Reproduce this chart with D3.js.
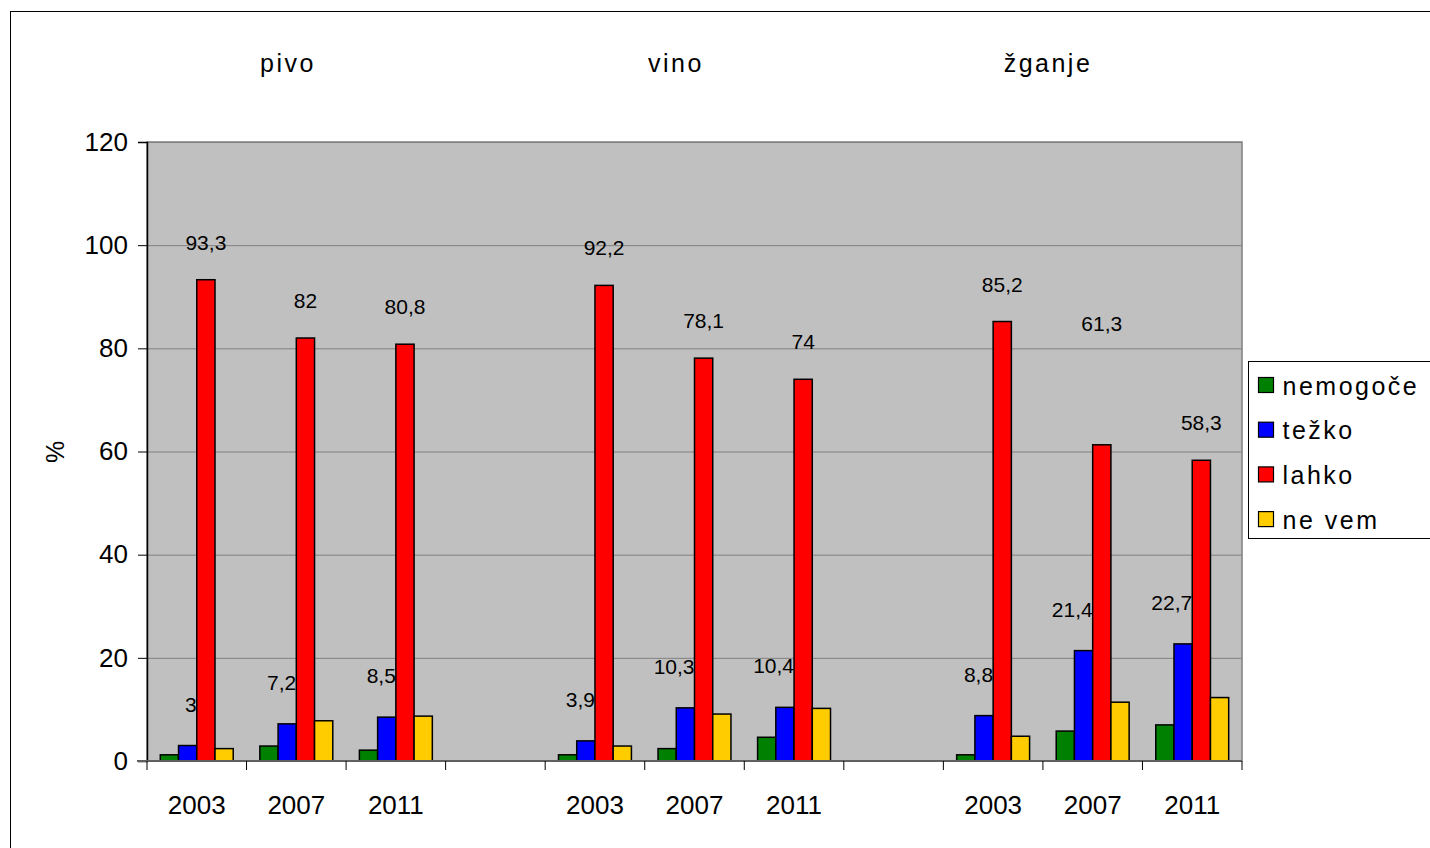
<!DOCTYPE html>
<html>
<head>
<meta charset="utf-8">
<script src="https://d3js.org/d3.v7.min.js"></script>
<style>
  body { margin: 0; background: #fff; }
  text { font-family: "Liberation Sans", Arial, sans-serif; fill: #000; }
</style>
</head>
<body>
<script>
// data
var groups = ["pivo", "vino", "žganje"];
var years = ["2003", "2007", "2011"];
var series = ["nemogoče", "težko", "lahko", "ne vem"];
var colors = ["#008000", "#0000FF", "#FF0000", "#FFCC00"];
var nemogoce = [1.2, 2.9, 2.1, 1.2, 2.4, 4.6, 1.2, 5.8, 7.0];
var tezko = [3, 7.2, 8.5, 3.9, 10.3, 10.4, 8.8, 21.4, 22.7];
var lahko = [93.3, 82, 80.8, 92.2, 78.1, 74, 85.2, 61.3, 58.3];
var neVem = [2.4, 7.8, 8.7, 2.9, 9.1, 10.2, 4.8, 11.4, 12.3];
var yTicks = [0, 20, 40, 60, 80, 100, 120];
var labelled = [false, true, true, false]; // only težko and lahko carry labels

var values = [nemogoce, tezko, lahko, neVem];

// slots: 3 years per group, with an empty slot between groups
var slots = [];
var slotYear = {};
var slotIndex = {};
groups.forEach(function(g, gi) {
  years.forEach(function(y, yi) {
    var id = g + y;
    slots.push(id);
    slotYear[id] = y;
    slotIndex[id] = gi * 3 + yi;
  });
  if (gi < groups.length - 1) slots.push("gap" + gi);
});

var w = 1430, h = 848;
var mLeft = 147, mRight = 1242, mTop = 142, mBottom = 761;

var svg = d3.select("body").append("svg")
  .attr("width", w).attr("height", h);

// outer chart border
svg.append("rect")
  .attr("x", 10.5).attr("y", 11.5)
  .attr("width", 1440).attr("height", 860)
  .attr("fill", "none").attr("stroke", "#000").attr("stroke-width", 1);

var x = d3.scaleBand().domain(slots).range([mLeft, mRight]).padding(0);
var inner = d3.scaleBand().domain(series).range([0, x.bandwidth()])
  .paddingInner(0).paddingOuter(0.73);
var y = d3.scaleLinear().domain([0, 120]).range([mBottom, mTop]);

// plot area
svg.append("rect")
  .attr("x", mLeft).attr("y", mTop)
  .attr("width", mRight - mLeft).attr("height", mBottom - mTop)
  .attr("fill", "#C0C0C0").attr("stroke", "#808080").attr("stroke-width", 1.5);

// gridlines
svg.append("g").selectAll("line")
  .data(yTicks.filter(function(d) { return d > 0; }))
  .join("line")
  .attr("x1", mLeft).attr("x2", mRight)
  .attr("y1", function(d) { return y(d) + 0.5; })
  .attr("y2", function(d) { return y(d) + 0.5; })
  .attr("stroke", "#808080").attr("stroke-width", 1);

// bars
var dataSlots = slots.filter(function(s) { return slotYear[s]; });
series.forEach(function(s, si) {
  svg.append("g").selectAll("rect")
    .data(dataSlots)
    .join("rect")
    .attr("x", function(d) { return x(d) + inner(s); })
    .attr("y", function(d) { return y(values[si][slotIndex[d]]); })
    .attr("width", inner.bandwidth())
    .attr("height", function(d) { return mBottom - y(values[si][slotIndex[d]]); })
    .attr("fill", colors[si])
    .attr("stroke", "#000").attr("stroke-width", 1.5);
});

// data labels (the 2007 žganje "lahko" label was dragged up in the original)
var liftLabel = { "žganje2007": 84 };
series.forEach(function(s, si) {
  if (!labelled[si]) return;
  svg.append("g").selectAll("text")
    .data(dataSlots)
    .join("text")
    .attr("x", function(d) {
      return si == 1 ? x(d) + inner(s) + inner.bandwidth() : x(d) + inner(s) + inner.bandwidth() / 2;
    })
    .attr("y", function(d) {
      var off = si == 1 ? 34 : 30 + (liftLabel[d] || 0);
      return y(values[si][slotIndex[d]]) - off;
    })
    .attr("text-anchor", si == 1 ? "end" : "middle")
    .attr("font-size", 21)
    .text(function(d) { return String(values[si][slotIndex[d]]).replace(".", ","); });
});

// y axis
var yAxis = d3.axisLeft(y).tickValues(yTicks).tickSize(9).tickPadding(10);
var yg = svg.append("g").attr("transform", "translate(" + mLeft + ",0)").call(yAxis);
yg.select(".domain").attr("stroke", "#000").attr("stroke-width", 1.5);
yg.selectAll(".tick line").attr("stroke", "#000");
yg.selectAll("text").attr("font-size", 26).attr("font-family", "Liberation Sans, Arial, sans-serif");

// x axis baseline
svg.append("line")
  .attr("x1", mLeft - 10).attr("x2", mRight)
  .attr("y1", mBottom).attr("y2", mBottom)
  .attr("stroke", "#606060").attr("stroke-width", 2);

// x ticks at slot boundaries
var bounds = slots.map(function(s) { return x(s); }).concat([mRight]);
svg.append("g").selectAll("line")
  .data(bounds)
  .join("line")
  .attr("x1", function(d) { return d; }).attr("x2", function(d) { return d; })
  .attr("y1", mBottom).attr("y2", mBottom + 9)
  .attr("stroke", "#000").attr("stroke-width", 1);

// year labels
var xAxis = d3.axisBottom(x).tickValues(dataSlots).tickSize(0).tickPadding(35)
  .tickFormat(function(d) { return slotYear[d]; });
var xg = svg.append("g").attr("transform", "translate(0," + mBottom + ")").call(xAxis);
xg.select(".domain").remove();
xg.selectAll("text").attr("font-size", 26).attr("font-family", "Liberation Sans, Arial, sans-serif");

// group titles
var titleX = [288, 676, 1048];
svg.append("g").selectAll("text")
  .data(groups)
  .join("text")
  .attr("x", function(d, i) { return titleX[i]; })
  .attr("y", 72)
  .attr("text-anchor", "middle")
  .attr("font-size", 25)
  .attr("letter-spacing", 2.5)
  .text(function(d) { return d; });

// y title
svg.append("text")
  .attr("transform", "translate(64,452) rotate(-90)")
  .attr("text-anchor", "middle")
  .attr("font-size", 25)
  .text("%");

// legend
var lg = svg.append("g").attr("transform", "translate(1248.5,361.5)");
lg.append("rect")
  .attr("width", 200).attr("height", 177)
  .attr("fill", "#fff").attr("stroke", "#000").attr("stroke-width", 1);
var items = lg.selectAll("g.item").data(series).join("g")
  .attr("class", "item")
  .attr("transform", function(d, i) { return "translate(0," + (24 + i * 44.7) + ")"; });
items.append("rect")
  .attr("x", 10).attr("y", -8)
  .attr("width", 15).attr("height", 15)
  .attr("fill", function(d, i) { return colors[i]; })
  .attr("stroke", "#000").attr("stroke-width", 1.2);
items.append("text")
  .attr("x", 34).attr("y", 9)
  .attr("font-size", 25)
  .attr("letter-spacing", 2.5)
  .text(function(d) { return d; });
</script>
</body>
</html>
